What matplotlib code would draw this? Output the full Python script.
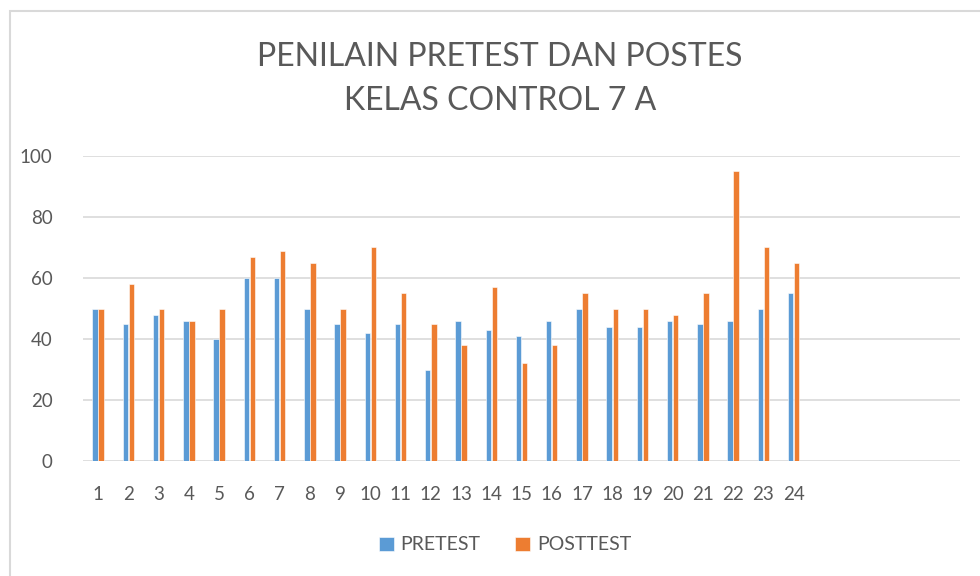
import numpy as np
import matplotlib.pyplot as plt
from matplotlib.patches import Rectangle

plt.rcParams['font.family'] = ['Lato', 'DejaVu Sans']

# data
students = [str(i) for i in range(1, 25)]
pretest = [50, 45, 48, 46, 40, 60, 60, 50, 45, 42, 45, 30,
           46, 43, 41, 46, 50, 44, 44, 46, 45, 46, 50, 55]
posttest = [50, 58, 50, 46, 50, 67, 69, 65, 50, 70, 55, 45,
            38, 57, 32, 38, 55, 50, 50, 48, 55, 95, 70, 65]
n_slots = 29  # the category axis has 5 empty slots after 24

W, H = 980, 576
fig = plt.figure(figsize=(W / 100, H / 100), dpi=100)

# light grey chart border (runs off the right and bottom edges)
fig.patches.append(Rectangle((10 / W, -0.1), 1.2, 1.1 - 11 / H, transform=fig.transFigure,
                             fill=False, edgecolor='#D9D9D9', lw=1.5))

ax = fig.add_axes([83 / W, 1 - 461 / H, (960 - 83) / W, (461 - 156) / H])

x = np.arange(len(students))
bw = 0.18
ax.bar(x - bw / 2 - 0.01, pretest, bw, color='#5B9BD5', edgecolor='white', lw=0.4, label='PRETEST', zorder=3)
ax.bar(x + bw / 2 + 0.01, posttest, bw, color='#ED7D31', edgecolor='white', lw=0.4, label='POSTTEST', zorder=3)

ax.set_xlim(-0.5, n_slots - 0.5)
ax.set_ylim(0, 100)
ax.set_yticks(range(0, 101, 20))
ax.set_xticks(x)
ax.set_xticklabels(students)
ax.grid(axis='y', color='#D9D9D9', lw=1.2, zorder=0)
for s in ax.spines.values():
    s.set_visible(False)
ax.tick_params(axis='both', length=0, labelsize=13.5, labelcolor='#595959')
ax.tick_params(axis='x', pad=18)
ax.tick_params(axis='y', pad=22)

fig.text(500 / W, 1 - 57 / H, 'PENILAIN PRETEST DAN POSTES', ha='center', va='center',
         fontsize=23, color='#595959')
fig.text(500 / W, 1 - 101 / H, 'KELAS CONTROL 7 A', ha='center', va='center',
         fontsize=23, color='#595959')

fig.legend(loc='center', bbox_to_anchor=(505 / W, 1 - 545 / H), ncol=2, frameon=False,
           fontsize=14, labelcolor='#595959', handlelength=0.75, handleheight=0.75,
           columnspacing=1.8, handletextpad=0.35)

fig.savefig('out.png', dpi=100)
